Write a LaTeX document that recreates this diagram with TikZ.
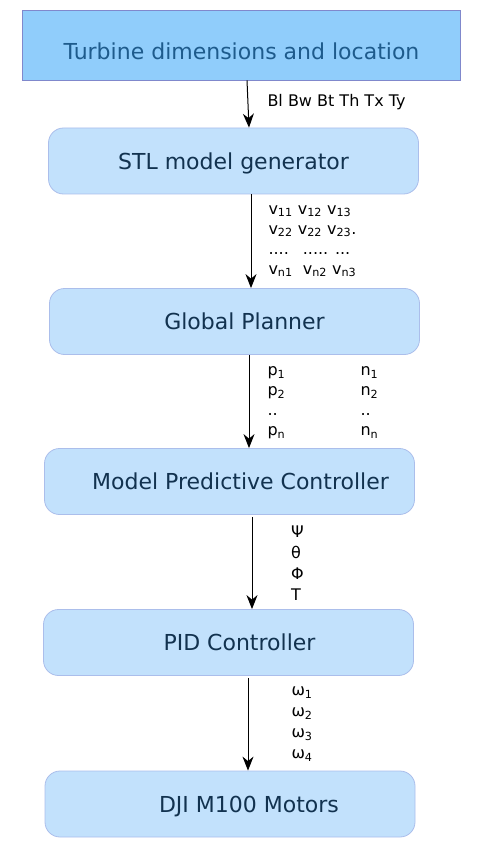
\documentclass[tikz,border=0pt]{standalone}
\usepackage{fontspec}
\setmainfont{DejaVu Sans}
\usepackage{tikz}
\usetikzlibrary{arrows.meta}

\definecolor{turbinefill}{HTML}{90CDFB}
\definecolor{turbineline}{HTML}{8088CC}
\definecolor{turbinetext}{HTML}{1E5B8C}
\definecolor{stagefill}{HTML}{C2E1FC}
\definecolor{stageline}{HTML}{ABBEEB}
\definecolor{stagetext}{HTML}{12324F}

\tikzset{
    inputbox/.style = {draw = turbineline, fill = turbinefill, text = turbinetext, line width = 0.8pt, inner sep = 0pt, font = \fontsize{22}{26}\selectfont},
    stagebox/.style = {draw = stageline, fill = stagefill, text = stagetext, line width = 0.8pt, rounded corners = 15pt, inner sep = 0pt, text depth = 0pt, font = \fontsize{22}{26}\selectfont},
    flow/.style = {->, >={Stealth[length=14pt, width=11pt, inset=4.5pt]}, line width = 1pt},
    signals/.style = {right, inner sep = 0pt, align = left, font = \fontsize{16}{20}\selectfont},
}

\begin{document}
\begin{tikzpicture}[x = 1pt, y = -1pt]
        \def\stagew{370pt};
        \def\stageh{66pt};
        \useasboundingbox (0,0) rectangle (487,850);

        \node[inputbox, minimum width = 438pt, minimum height = 70pt, text height = 30pt, text depth = 0pt] (turbine) at (241.5, 45){Turbine dimensions and location};

        \node[stagebox, minimum width = \stagew, minimum height = \stageh] (stl) at (233.5, 161){STL model generator};

        \node[stagebox, minimum width = \stagew, minimum height = \stageh] (planner) at (234.5, 321.5){\hspace*{20pt}Global Planner};

        \node[stagebox, minimum width = \stagew, minimum height = \stageh] (mpc) at (229.5, 481.5){\hspace*{22pt}Model Predictive Controller};

        \node[stagebox, minimum width = \stagew, minimum height = \stageh] (pid) at (228.5, 642.5){\hspace*{22pt}PID Controller};

        \node[stagebox, minimum width = \stagew, minimum height = \stageh] (motors) at (230, 804){\hspace*{38pt}DJI M100 Motors};

        \draw[flow] ([xshift = 5.5pt]turbine.south) -- ([xshift = 15.5pt]stl.north) node[signals, midway, xshift = 19pt, yshift = 2pt]{Bl Bw Bt Th Tx Ty};

        \draw[flow] ([xshift = 17.5pt]stl.south) -- ([xshift = 16.5pt]planner.north) node[signals, midway, xshift = 17pt]{
            v\textsubscript{11} v\textsubscript{12} v\textsubscript{13}\\
            v\textsubscript{22} v\textsubscript{22} v\textsubscript{23}.\\
            ....\hspace{14pt}..... ...\\
            v\textsubscript{n1}\ \ v\textsubscript{n2} v\textsubscript{n3}
            };

        \draw[flow] ([xshift = 14.5pt]planner.south) -- ([xshift = 19.5pt]mpc.north) node[signals, midway, xshift = 18pt]{
            \begin{tabular}{@{}p{93pt}@{}l@{}}
                p\textsubscript{1} & n\textsubscript{1} \\
                p\textsubscript{2} & n\textsubscript{2} \\
                ..                 & ..                 \\
                p\textsubscript{n} & n\textsubscript{n}
            \end{tabular}
            };

        \draw[flow] ([xshift = 22.5pt, yshift = -2pt]mpc.south) -- ([xshift = 23.5pt]pid.north) node[signals, midway, xshift = 38.5pt, font = \fontsize{16}{21}\selectfont]{Ψ\\θ\\Φ\\T};

        \draw[flow] ([xshift = 19.5pt, yshift = -2pt]pid.south) -- ([xshift = 18pt]motors.north) node[signals, midway, xshift = 43pt, font = \fontsize{16}{21}\selectfont]{
            ω\textsubscript{1}\\ω\textsubscript{2}\\ω\textsubscript{3}\\ω\textsubscript{4}
            };
    \end{tikzpicture}
\end{document}
